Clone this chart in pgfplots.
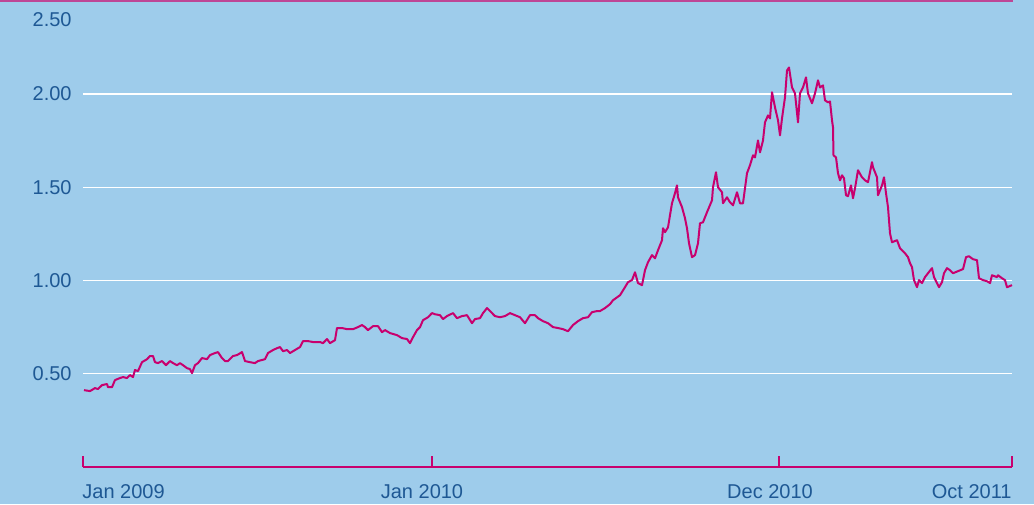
\documentclass[border=0pt]{standalone}
\usepackage{pgfplots}
\pgfplotsset{compat=1.18}
\usepackage{fontspec}
\setmainfont{Liberation Sans}
\definecolor{bg}{RGB}{158,204,235}
\definecolor{mag}{RGB}{200,0,110}
\definecolor{topmag}{RGB}{190,70,150}
\definecolor{txt}{RGB}{30,88,148}
\begin{document}
\begin{tikzpicture}
\useasboundingbox (0,0) rectangle (517pt,252pt);
\fill[bg] (0,0) rectangle (517pt,252pt);
\begin{axis}[
  at={(41.5pt,18.5pt)}, anchor=south west,
  scale only axis, width=464.5pt, height=233.15pt,
  xmin=0, xmax=929, ymin=0, ymax=2.5,
  axis x line*=bottom, axis y line*=left,
  x axis line style={-, draw=mag, line width=1pt},
  y axis line style={draw=none},
  xtick={0,349,696,929}, xticklabels={},
  xtick style={draw=mag, line width=1pt},
  tick align=inside, major tick length=5.5pt,
  ytick={0.5,1,1.5,2}, ytick style={draw=none},
  ymajorgrids, grid style={white, line width=0.65pt},
  extra y ticks={2.5},
  extra y tick style={grid=none, yticklabel style={yshift=-9.5pt}},
  yticklabel style={font=\fontsize{10}{12}\selectfont, text=txt, inner sep=0pt, xshift=-5.5pt,
    /pgf/number format/fixed, /pgf/number format/fixed zerofill,
    /pgf/number format/precision=2, /pgf/number format/assume math mode=true},
  clip=false,
]
\addplot[mag, line width=1pt, line join=round] coordinates {
(1,0.412) (7,0.407) (12,0.423) (15,0.418) (19,0.439) (24,0.445) (25,0.428) (29,0.428)
(32,0.466) (37,0.477) (40,0.482) (44,0.477) (47,0.493) (50,0.482) (52,0.520) (55,0.514)
(59,0.562) (64,0.578) (67,0.595) (70,0.595) (72,0.562) (75,0.557) (79,0.568) (83,0.546)
(87,0.568) (90,0.557) (94,0.546) (97,0.557) (100,0.546) (104,0.530) (107,0.525) (109,0.503)
(112,0.546) (115,0.557) (119,0.584) (124,0.578) (127,0.600) (132,0.611) (135,0.616) (139,0.584)
(142,0.568) (145,0.568) (150,0.595) (154,0.600) (159,0.616) (162,0.568) (167,0.562) (172,0.557)
(175,0.568) (182,0.578) (185,0.611) (190,0.627) (194,0.637) (197,0.643) (200,0.621) (204,0.627)
(207,0.611) (212,0.627) (217,0.643) (220,0.675) (225,0.675) (230,0.670) (237,0.670) (240,0.664)
(244,0.686) (247,0.664) (252,0.680) (254,0.745) (259,0.745) (264,0.739) (270,0.739) (275,0.750)
(279,0.761) (282,0.750) (285,0.734) (290,0.755) (295,0.755) (299,0.723) (302,0.734) (307,0.718)
(314,0.707) (319,0.691) (324,0.686) (327,0.664) (330,0.696) (334,0.734) (337,0.750) (340,0.787)
(345,0.803) (349,0.825) (352,0.819) (357,0.814) (360,0.793) (364,0.809) (370,0.825) (374,0.798)
(379,0.809) (384,0.814) (389,0.771) (392,0.793) (397,0.798) (400,0.825) (404,0.852) (407,0.836)
(412,0.809) (417,0.803) (422,0.809) (427,0.825) (432,0.814) (437,0.803) (442,0.771) (447,0.814)
(452,0.814) (455,0.798) (460,0.782) (465,0.771) (470,0.750) (475,0.745) (480,0.739) (485,0.728)
(490,0.761) (495,0.782) (500,0.798) (505,0.803) (509,0.830) (514,0.836) (517,0.836) (522,0.852)
(527,0.873) (530,0.894) (537,0.921) (542,0.964) (545,0.991) (549,1.002) (552,1.044) (555,0.986)
(559,0.975) (562,1.055) (565,1.098) (569,1.136) (572,1.119) (575,1.162) (579,1.216) (580,1.280)
(582,1.259) (585,1.285) (589,1.414) (592,1.468) (594,1.510) (595,1.446) (599,1.393) (602,1.334)
(604,1.280) (606,1.200) (609,1.125) (612,1.136) (615,1.200) (617,1.307) (620,1.312) (624,1.366)
(629,1.430) (630,1.500) (633,1.580) (635,1.500) (639,1.473) (640,1.414) (644,1.446) (647,1.419)
(650,1.403) (654,1.473) (657,1.414) (660,1.414) (664,1.575) (667,1.618) (670,1.671) (672,1.660)
(675,1.751) (677,1.687) (680,1.751) (682,1.848) (685,1.885) (687,1.869) (689,2.009) (692,1.928)
(695,1.859) (697,1.778) (699,1.869) (702,1.982) (704,2.126) (706,2.142) (709,2.035) (712,2.003)
(715,1.848) (717,2.003) (720,2.035) (723,2.089) (725,2.003) (729,1.950) (732,2.003) (735,2.073)
(737,2.035) (740,2.046) (742,1.966) (745,1.955) (747,1.960) (749,1.859) (750,1.821) (750.5,1.671)
(753,1.660) (755,1.575) (757,1.537) (759,1.564) (761,1.548) (763,1.457) (765,1.452) (768,1.510)
(770,1.441) (772,1.494) (775,1.591) (779,1.553) (782,1.537) (785,1.527) (789,1.634) (790,1.607)
(794,1.553) (795,1.457) (799,1.510) (801,1.553) (803,1.468) (805,1.393) (807,1.253) (809,1.205)
(814,1.216) (817,1.173) (822,1.146) (825,1.125) (827,1.093) (829,1.071) (831,1.002) (834,0.964)
(836,1.002) (839,0.986) (842,1.018) (845,1.039) (849,1.066) (851,1.018) (854,0.986) (856,0.964)
(859,0.991) (861,1.039) (864,1.066) (867,1.055) (870,1.039) (875,1.050) (880,1.061) (883,1.125)
(886,1.130) (890,1.114) (894,1.109) (896,1.012) (900,1.002) (904,0.996) (907,0.986) (909,1.028)
(914,1.018) (915,1.028) (919,1.012) (922,1.002) (924,0.964) (929,0.975)
};
\begin{scope}[every node/.style={font=\fontsize{10}{12}\selectfont, text=txt, inner sep=0pt, yshift=-8.5pt}]
\node[anchor=north west] at (axis cs:-1,0) {Jan 2009};
\node[anchor=north] at (axis cs:339,0) {Jan 2010};
\node[anchor=north] at (axis cs:687,0) {Dec 2010};
\node[anchor=north east] at (axis cs:929,0) {Oct 2011};
\end{scope}
\end{axis}
\draw[topmag, line width=1.2pt] (0,251.65pt) -- (506.5pt,251.65pt);
\end{tikzpicture}
\end{document}
